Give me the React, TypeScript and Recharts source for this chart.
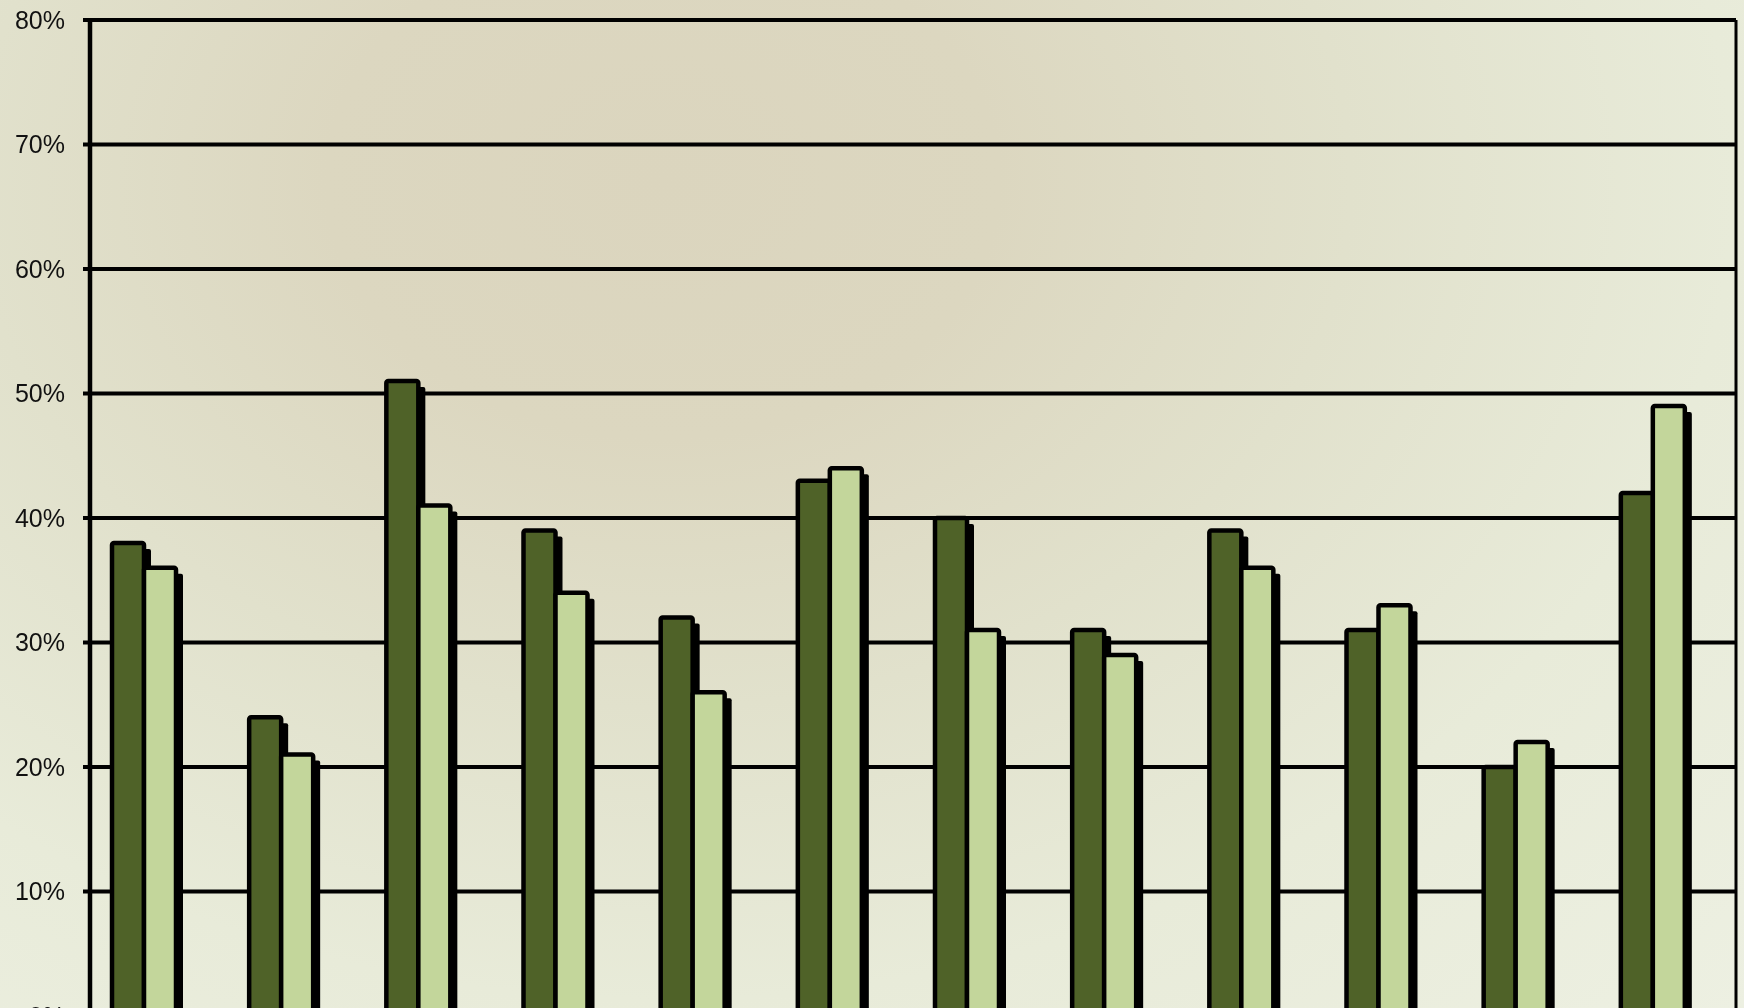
import { BarChart, Bar, XAxis, YAxis, CartesianGrid } from 'recharts';

// categories are cut off in the source image, so only their order is known
const categories = ['1', '2', '3', '4', '5', '6', '7', '8', '9', '10', '11', '12'];
const darkValues = [0.38, 0.24, 0.51, 0.39, 0.32, 0.43, 0.40, 0.31, 0.39, 0.31, 0.20, 0.42];
const lightValues = [0.36, 0.21, 0.41, 0.34, 0.26, 0.44, 0.31, 0.29, 0.36, 0.33, 0.22, 0.49];
const yTicks = [0, 0.1, 0.2, 0.3, 0.4, 0.5, 0.6, 0.7, 0.8];

const chartData = categories.map((name, i) => ({
  name,
  dark: darkValues[i],
  light: lightValues[i],
}));

// Excel-style bar: black outline plus a hard drop shadow to the lower right
const ShadowBar = (props: any) => {
  const { x, y, width, height, fill } = props;
  if (!height || height <= 0) return null;
  const bx = x - 15; // bar pairs sit a little left of the category centre
  return (
    <g>
      <rect x={bx + 7} y={y + 6} width={width} height={height} fill="#000" rx={2} />
      <rect
        x={bx}
        y={y}
        width={width}
        height={height}
        fill={fill}
        stroke="#000"
        strokeWidth={4.5}
        strokeLinejoin="round"
        rx={2}
      />
    </g>
  );
};

export default function App() {
  return (
    <div
      style={{
        position: 'fixed',
        top: 0,
        left: 0,
        width: 1744,
        height: 1008,
        overflow: 'hidden',
        background:
          'radial-gradient(ellipse at 38% 18%, #dbd5be 0%, #dcd7c0 22%, #e1e1cc 45%, #e8ebd9 70%, #edf0e2 100%)',
      }}
    >
      <BarChart
        width={1744}
        height={1040}
        data={chartData}
        margin={{ top: 20, right: 0, left: 0, bottom: 24 }}
        barSize={32}
        barGap={0}
      >
        <CartesianGrid vertical={false} stroke="#000" strokeWidth={4} />
        <XAxis dataKey="name" hide />
        <YAxis
          width={90}
          domain={[0, 0.8]}
          ticks={yTicks}
          interval={0}
          tickFormatter={(v: number) => `${Math.round(v * 100)}%`}
          axisLine={{ stroke: '#000', strokeWidth: 4.5 }}
          tickLine={{ stroke: '#000', strokeWidth: 4 }}
          tickSize={7}
          tickMargin={18}
          tick={{ fill: '#111', fontSize: 25, fontFamily: 'Liberation Sans, Arial, sans-serif' }}
        />
        <YAxis
          yAxisId="frame"
          orientation="right"
          width={8}
          domain={[0, 0.8]}
          tick={false}
          tickLine={false}
          axisLine={{ stroke: '#000', strokeWidth: 3 }}
        />
        <Bar dataKey="dark" fill="#4f6228" shape={<ShadowBar />} isAnimationActive={false} />
        <Bar dataKey="light" fill="#c3d69b" shape={<ShadowBar />} isAnimationActive={false} />
      </BarChart>
    </div>
  );
}
